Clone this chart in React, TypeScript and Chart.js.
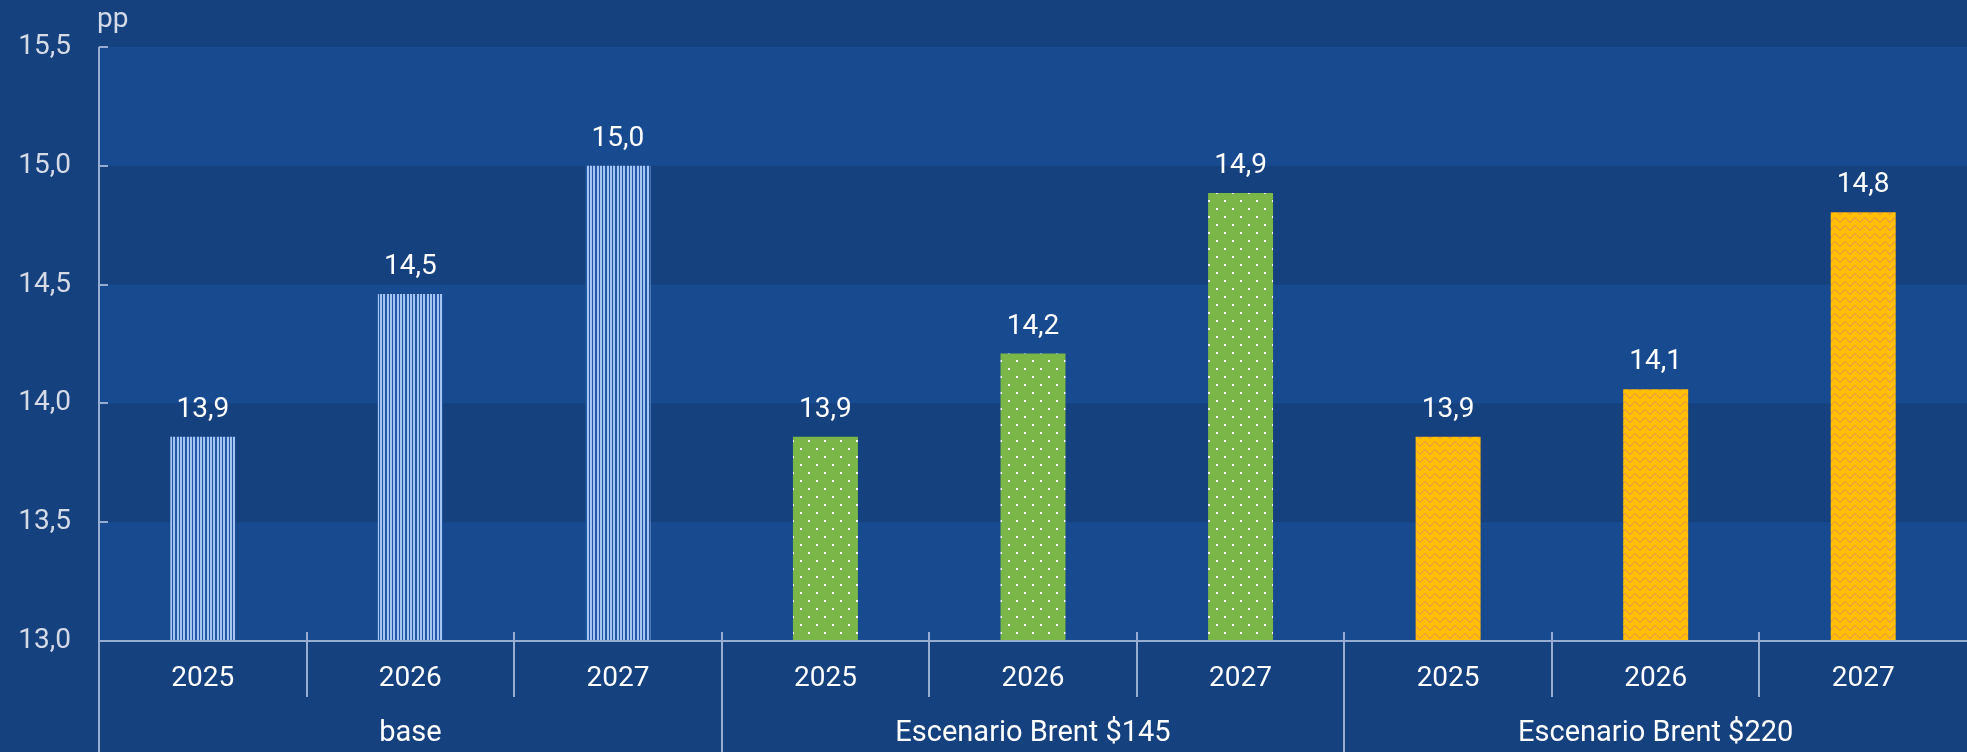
import React, { useEffect, useRef } from "react";
import { Chart, registerables } from "chart.js";

Chart.register(...registerables);

const categories = ["2025", "2026", "2027", "2025", "2026", "2027", "2025", "2026", "2027"];
const groups = ["base", "Escenario Brent $145", "Escenario Brent $220"];
const groupSizes = [3, 3, 3];
const values = [13.86, 14.46, 15.0, 13.86, 14.21, 14.885, 13.86, 14.06, 14.805];
const barStyles = ["stripes", "stripes", "stripes", "dots", "dots", "dots", "zigzag", "zigzag", "zigzag"];
const yMin = 13.0;
const yMax = 15.5;
const yStep = 0.5;
const yTitle = "pp";

const W = 1967;
const H = 752;
const FONT = "Roboto";
const BG = "#15417f";
const BAND = "#184a8f";
const LINE = "#97acd2";

function fmt(v: number) {
  return v.toFixed(1).replace(".", ",");
}

function makePattern(kind: string): CanvasPattern | string {
  const c = document.createElement("canvas");
  const g = c.getContext("2d")!;
  if (kind === "stripes") {
    c.width = 10; c.height = 4;
    g.fillStyle = "#2457a3"; g.fillRect(0, 0, 10, 4);
    g.fillStyle = "#a4c5f2";
    g.fillRect(0, 0, 2, 4); g.fillRect(3, 0, 2, 4); g.fillRect(7, 0, 2, 4);
  } else if (kind === "dots") {
    c.width = 16; c.height = 16;
    g.fillStyle = "#7ab648"; g.fillRect(0, 0, 16, 16);
    g.fillStyle = "#ffffff";
    g.fillRect(0, 0, 2, 2); g.fillRect(8, 8, 2, 2);
  } else {
    c.width = 10; c.height = 8;
    g.fillStyle = "#ffc000"; g.fillRect(0, 0, 10, 8);
    g.fillStyle = "#f2a12c";
    const ys = [5, 4, 3, 2, 1, 1, 2, 3, 4, 5];
    ys.forEach((y, x) => g.fillRect(x, y, 1, 2));
  }
  return g.createPattern(c, "repeat") || "#888";
}

const decorPlugin = {
  id: "decor",
  beforeDraw(chart: any) {
    const { ctx, chartArea, scales } = chart;
    const y = scales.y;
    ctx.save();
    ctx.fillStyle = BG;
    ctx.fillRect(0, 0, W, H);
    ctx.fillStyle = BAND;
    for (let i = 0, v = yMax; v > yMin + 1e-9; v -= yStep, i++) {
      if (i % 2 === 0) {
        const t = y.getPixelForValue(v);
        const b = y.getPixelForValue(v - yStep);
        ctx.fillRect(chartArea.left, t, chartArea.right - chartArea.left, b - t);
      }
    }
    ctx.restore();
  },
  afterDatasetsDraw(chart: any) {
    const { ctx, chartArea, scales } = chart;
    const x = scales.x;
    const y = scales.y;
    const meta = chart.getDatasetMeta(0);
    ctx.save();
    // data labels
    ctx.font = `28px ${FONT}`;
    ctx.fillStyle = "#ffffff";
    ctx.textAlign = "center";
    ctx.textBaseline = "alphabetic";
    meta.data.forEach((bar: any, i: number) => {
      ctx.fillText(fmt(values[i]), bar.x, bar.y - 20);
    });
    // lines
    ctx.strokeStyle = LINE;
    ctx.lineWidth = 2;
    const L = chartArea.left;
    const B = chartArea.bottom;
    ctx.beginPath();
    ctx.moveTo(L, y.getPixelForValue(yMax));
    ctx.lineTo(L, H);
    for (let v = yMin; v <= yMax + 1e-9; v += yStep) {
      const p = Math.round(y.getPixelForValue(v));
      ctx.moveTo(L, p);
      ctx.lineTo(L + 9, p);
    }
    ctx.moveTo(L, B);
    ctx.lineTo(chartArea.right, B);
    const catW = (chartArea.right - chartArea.left) / categories.length;
    let idx = 0;
    const groupStarts: number[] = [];
    groupSizes.forEach((n) => { groupStarts.push(idx); idx += n; });
    for (let i = 1; i < categories.length; i++) {
      const px = Math.round(x.getPixelForValue(i) - catW / 2);
      const isGroup = groupStarts.includes(i);
      ctx.moveTo(px, B - 9);
      ctx.lineTo(px, isGroup ? H : B + 56);
    }
    ctx.stroke();
    // category labels
    ctx.fillStyle = "#ffffff";
    ctx.textBaseline = "middle";
    ctx.textAlign = "center";
    categories.forEach((c, i) => {
      ctx.fillText(c, x.getPixelForValue(i), B + 38);
    });
    ctx.font = `29px ${FONT}`;
    groups.forEach((g, gi) => {
      const s = groupStarts[gi];
      const e = s + groupSizes[gi] - 1;
      const cx = (x.getPixelForValue(s) + x.getPixelForValue(e)) / 2;
      ctx.fillText(g, cx, B + 93);
    });
    // axis title
    ctx.font = `28px ${FONT}`;
    ctx.fillStyle = "#d5dbe6";
    ctx.textAlign = "left";
    ctx.textBaseline = "alphabetic";
    ctx.fillText(yTitle, L - 2, 27);
    ctx.restore();
  },
};

export default function App() {
  const ref = useRef<HTMLCanvasElement>(null);
  useEffect(() => {
    document.body.style.margin = "0";
    document.body.style.background = BG;
    const canvas = ref.current!;
    const chart = new Chart(canvas, {
      type: "bar",
      data: {
        labels: categories,
        datasets: [
          {
            data: values,
            backgroundColor: barStyles.map(makePattern) as any,
            borderWidth: 0,
            barPercentage: 0.313,
            categoryPercentage: 1,
          },
        ],
      },
      options: {
        responsive: false,
        animation: false,
        events: [],
        devicePixelRatio: 1,
        layout: { padding: { top: 47, left: 0, right: 0, bottom: 0 } },
        plugins: { legend: { display: false }, tooltip: { enabled: false }, title: { display: false } },
        scales: {
          x: {
            type: "category",
            offset: true,
            grid: { display: false, drawTicks: false },
            border: { display: false },
            ticks: { display: false },
            afterFit: (s: any) => { s.height = H - 641; },
          },
          y: {
            min: yMin,
            max: yMax,
            grid: { display: false, drawTicks: false },
            border: { display: false },
            ticks: {
              stepSize: yStep,
              padding: 28,
              color: "#d5dbe6",
              font: { family: FONT, size: 28 },
              callback: (v: any) => fmt(Number(v)),
            },
            afterFit: (s: any) => { s.width = 99; },
          },
        },
      },
      plugins: [decorPlugin],
    });
    return () => chart.destroy();
  }, []);
  return (
    <div style={{ position: "absolute", left: 0, top: 0, width: W, height: H }}>
      <canvas ref={ref} width={W} height={H} style={{ display: "block" }} />
    </div>
  );
}
